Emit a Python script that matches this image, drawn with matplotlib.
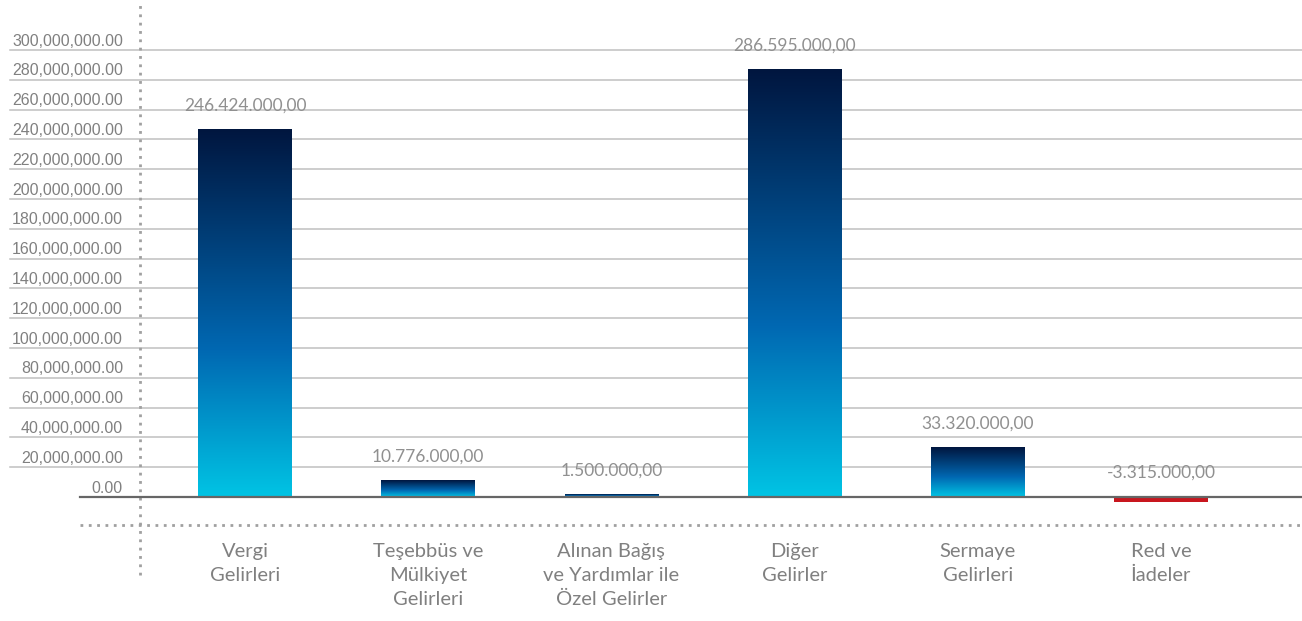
import numpy as np
import matplotlib
matplotlib.use("Agg")
import matplotlib.pyplot as plt
from matplotlib.colors import LinearSegmentedColormap
from matplotlib.transforms import blended_transform_factory

# data (millions)
categories = ["Vergi\nGelirleri", "Teşebbüs ve\nMülkiyet\nGelirleri",
              "Alınan Bağış\nve Yardımlar ile\nÖzel Gelirler",
              "Diğer\nGelirler", "Sermaye\nGelirleri", "Red ve\nİadeler"]
values = [246.424, 10.776, 1.5, 286.595, 33.32, -3.315]
value_labels = ["246.424.000,00", "10.776.000,00", "1.500.000,00",
                "286.595.000,00", "33.320.000,00", "-3.315.000,00"]
yticks = list(range(0, 301, 20))
ytick_labels = ["0.00"] + ["{:,}.00".format(t * 1000000) for t in yticks[1:]]

W, H = 1302, 621
fig = plt.figure(figsize=(W / 100, H / 100), dpi=100)
ax = fig.add_axes([0, 0, 1, 1])
ax.axis("off")

# pixel mapping
step = 183.2
x0 = 245
zero_px = 497
ppm = 1.49  # px per million
xlim = (-x0 / step, (W - x0) / step)
ylim = (-(H - zero_px) / ppm, zero_px / ppm)

cmap = LinearSegmentedColormap.from_list(
    "blu", [(0, "#00c4e4"), (0.4, "#0068b2"), (1, "#00163f")])
grad = np.linspace(0, 1, 256).reshape(-1, 1)

bw = 0.51
tf = blended_transform_factory(ax.transAxes, ax.transData)

# grid lines and tick labels
for t in yticks[1:]:
    ax.plot([10 / W, 1], [t, t], transform=tf, color="#c0c0c0", lw=1.1, zorder=1)
for t, lab in zip(yticks, ytick_labels):
    ax.text(123 / W, t + 1.0, lab, transform=tf, ha="right", va="bottom",
            fontsize=11.5, color="#808080", family="Liberation Sans")

# zero line
ax.plot([80 / W, 1], [0, 0], transform=tf, color="#666666", lw=1.6, zorder=4)

# dotted frame lines
ax.plot([80 / W, 1], [-(525 - zero_px) / ppm] * 2, transform=tf,
        color="#a0a0a0", lw=2, ls=(0, (1, 2)), zorder=1)
xv = (140 - x0) / step
ax.plot([xv, xv], [(zero_px - 575) / ppm, (zero_px - 5) / ppm],
        color="#a0a0a0", lw=2, ls=(0, (1, 2)), zorder=1)

for i, (v, vl, cat) in enumerate(zip(values, value_labels, categories)):
    if v > 0:
        ax.imshow(grad, cmap=cmap, origin="lower", aspect="auto",
                  extent=[i - bw / 2, i + bw / 2, 0, v], zorder=3)
        ty = v
    else:
        ax.bar(i, v, width=bw, color="#c8161e", zorder=3)
        ty = 0
    ax.text(i, ty + 24 / ppm, vl, ha="center", va="center",
            fontsize=12.5, color="#909090", family="Lato")
    ax.text(i, -(543 - zero_px) / ppm, cat, ha="center", va="top",
            fontsize=14.5, color="#808080", family="Lato",
            linespacing=1.5)

ax.set_xlim(*xlim)
ax.set_ylim(*ylim)

fig.savefig("out.png", dpi=100)
